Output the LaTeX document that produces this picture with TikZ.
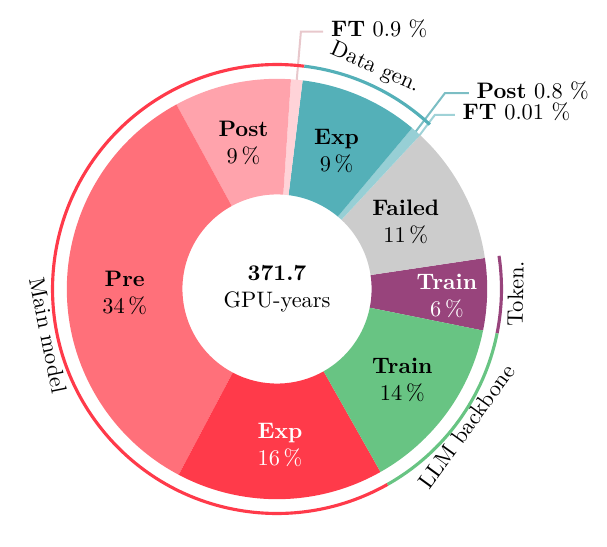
\documentclass[tikz,border=0pt]{standalone}
\usetikzlibrary{calc}
\definecolor{preRed}{HTML}{FF707A}
\definecolor{expRed}{HTML}{FF3A4A}
\definecolor{postPink}{HTML}{FFA3AC}
\definecolor{ftPink}{HTML}{FFD3D8}
\definecolor{ftPinkLine}{HTML}{E8C8CC}
\definecolor{expTeal}{HTML}{54B0B8}
\definecolor{postTeal}{HTML}{97CFD5}
\definecolor{postTealLine}{HTML}{7CBEC4}
\definecolor{ftTeal}{HTML}{B5DFE3}
\definecolor{ftTealLine}{HTML}{9FD2D7}
\definecolor{failGray}{HTML}{CCCCCC}
\definecolor{tokPurple}{HTML}{98447C}
\definecolor{trainGreen}{HTML}{68C483}

\begin{document}
\begin{tikzpicture} [scale=.33,
  pct/.style={align=center},
  ring/.style={line width=1.4pt},
  callout/.style={line width=.9pt},
  calloutlabel/.style={anchor=mid west}]
\useasboundingbox (-13.18,-12.23) rectangle (15.70,13.75);
\coordinate (O) at (0,0);
% callouts (under the slices)
\coordinate (ftA) at (84.6:9.8);
\coordinate (ftAb) at (84.7:12.3);
\node[calloutlabel] (ftAl) at ($(ftAb)+(1.06,0)$) {\textbf{FT} 0.9 \%};
\draw[ftPinkLine, callout] (ftA) -- (ftAb) -- (ftAl.mid west);
\coordinate (postB) at (48.55:9.8);
\coordinate (postBb) at (49.4:12.27);
\node[calloutlabel] (postBl) at ($(postBb)+(1.14,0)$) {\textbf{Post} 0.8 \%};
\draw[postTealLine, callout] (postB) -- (postBb) -- (postBl.mid west);
\coordinate (ftB) at (47.08:9.8);
\coordinate (ftBb) at (47.8:11.18);
\node[calloutlabel] (ftBl) at ($(ftBb)+(0.95,0)$) {\textbf{FT} 0.01 \%};
\draw[ftTealLine, callout] (ftB) -- (ftBb) -- (ftBl.mid west);
% slices
\foreach \a/\b/\c in {-11.4/8.5/tokPurple, 8.5/47.07/failGray, 47.07/47.1/ftTeal,
  47.1/50/postTeal, 50/83/expTeal, 83/86.2/ftPink, 86.2/118.6/postPink,
  118.6/242.1/preRed, 242.1/299.5/expRed, 299.5/348.6/trainGreen} {
 \fill[\c] (\a:4.5) -- (\a:10) arc (\a:\b:10) -- (\b:4.5) arc (\b:\a:4.5) -- cycle;
}
% group rings
\foreach \a/\b/\c in {83/299.5/expRed, 47.1/83/expTeal, -11.4/8.5/tokPurple, -60.5/-11.4/trainGreen} {
 \draw[\c, ring] (\a:10.68) arc (\a:\b:10.68);
}
\node[rotate=-23.9] (datagen) at (66.1:11.5) {Data gen.};
\node[rotate=88.9] (token) at (-1.1:11.35) {Token.};
\node[rotate=54] (backbone) at (-36:11.15) {LLM backbone};
\node[rotate=281.5] (mainmodel) at (191.5:11.12) {Main model};
% slice labels
\foreach \ang/\rad/\nm/\pc/\tc/\id in {181.5/7.25/Pre/34/black/pre, -88.9/7.42/Exp/16/white/exp,
  102.9/7.14/Post/9/black/post, 66.6/7.14/Exp/9/black/expd, 27.4/6.9/Failed/11/black/failed,
  -2.4/8.09/Train/6/white/tok, -36/7.37/Train/14/black/train} {
 \node[pct, text=\tc] (\id) at (\ang:\rad) {\textbf{\nm}\\\pc\,\%};
}
\node[pct] (total) at (O) {\textbf{371.7}\\GPU-years};
\end{tikzpicture}
\end{document}
